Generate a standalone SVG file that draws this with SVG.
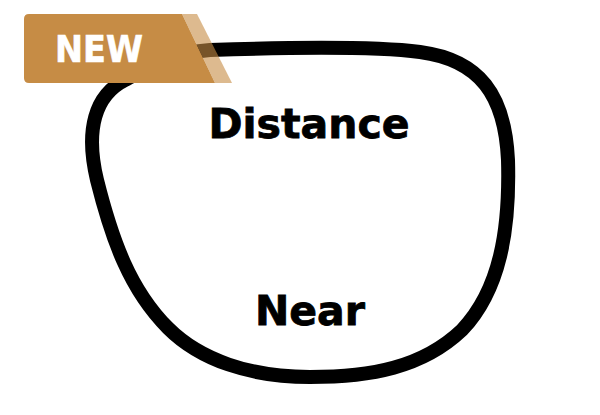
<svg xmlns="http://www.w3.org/2000/svg" width="600" height="415" viewBox="0 0 600 415">
<style>
.frame{fill:none;stroke:#000;stroke-width:14;stroke-linejoin:round}
.lbl{font-family:"DejaVu Sans",sans-serif;font-weight:bold;fill:#000;stroke:#000;stroke-width:0.8;text-anchor:middle}
</style>
<rect width="600" height="415" fill="#fff"/>
<g id="frame">
<path class="frame" d="M 210 50 C 300 47, 380 47, 420 52 C 480 60, 505 95, 508 160 C 510 230, 500 290, 462 330 C 422 368, 370 377, 310 377 C 250 377, 200 360, 168 328 C 130 290, 112 240, 97 180 C 85 130, 95 95, 125 80 C 150 67, 170 53, 210 50 Z"/>
</g>
<g id="distance"><text class="lbl" x="309" y="138" font-size="41">Distance</text></g>
<g id="near"><text class="lbl" x="310" y="325" font-size="41">Near</text></g>
<g id="badge">
<path d="M 29 14 L 182 14 L 215 83 L 29 83 Q 24 83 24 78 L 24 19 Q 24 14 29 14 Z" fill="#C68C45"/>
<path d="M 182 14 L 197 14 L 232 83 L 215 83 Z" fill="#C68C45" fill-opacity="0.6"/>
<text x="55" y="62" font-family="DejaVu Sans,sans-serif" font-weight="bold" font-size="37" fill="#fff" stroke="#fff" stroke-width="0.6" textLength="88" lengthAdjust="spacingAndGlyphs">NEW</text>
</g>
</svg>
